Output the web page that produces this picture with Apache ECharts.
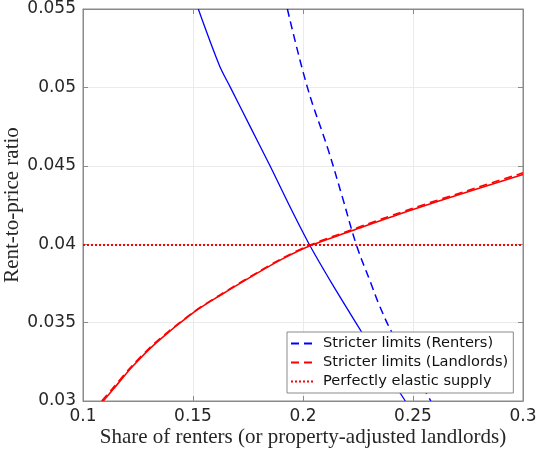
<!DOCTYPE html>
<html><head><meta charset="utf-8">
<script src="https://cdn.jsdelivr.net/npm/echarts@6/dist/echarts.min.js"></script>
<style>html,body{margin:0;padding:0;background:#fff}#c{width:537px;height:449px}</style>
</head><body><div id="c"></div>
<script>
// Data (x = share of renters, y = rent-to-price ratio)
const rentersBaseX = [0.1524, 0.1620, 0.1670, 0.1760, 0.1850, 0.1937, 0.2032, 0.2131, 0.2240, 0.2351, 0.2465];
const rentersBaseY = [0.0550, 0.0514, 0.0500, 0.0475, 0.0450, 0.0425, 0.0399, 0.0375, 0.0350, 0.0325, 0.0300];
const rentersStrictX = [0.1929, 0.2020, 0.2115, 0.2179, 0.2244, 0.2309, 0.2347, 0.2403, 0.2492, 0.2581];
const rentersStrictY = [0.0550, 0.0500, 0.0460, 0.0430, 0.0399, 0.0375, 0.0361, 0.0344, 0.0322, 0.0300];
const landlordsBaseX = [0.1092, 0.1138, 0.1225, 0.1335, 0.1500, 0.1623, 0.1800, 0.1905, 0.2032, 0.2221, 0.2289, 0.2500, 0.2750, 0.3000];
const landlordsBaseY = [0.0300, 0.03076, 0.0322, 0.03374, 0.03562, 0.03673, 0.03822, 0.03905, 0.0399, 0.04085, 0.0412, 0.04222, 0.04335, 0.04445];
const landlordsStrictX = [0.1085, 0.1132, 0.1220, 0.1330, 0.1500, 0.1623, 0.1800, 0.1905, 0.2032, 0.2221, 0.2289, 0.2500, 0.2750, 0.3000];
const landlordsStrictY = [0.0300, 0.03076, 0.0322, 0.03374, 0.03565, 0.03677, 0.03826, 0.03910, 0.03995, 0.04092, 0.04127, 0.04230, 0.04343, 0.04455];
const elasticX = [0.1, 0.3];
const elasticY = [0.03995, 0.03995];
const xTicks = [0.1, 0.15, 0.2, 0.25, 0.3];
const yTicks = [0.03, 0.035, 0.04, 0.045, 0.05, 0.055];
const legendNames = ['Stricter limits (Renters)', 'Stricter limits (Landlords)', 'Perfectly elastic supply'];

const zip = (xs, ys) => xs.map((x, i) => [x, ys[i]]);
const fmt = v => String(+v.toFixed(3));

const chart = echarts.init(document.getElementById('c'));
const tickFont = {fontFamily: 'DejaVu Sans', fontSize: 17, color: '#262626'};
const titleFont = {fontFamily: 'Liberation Serif', fontSize: 21, color: '#262626'};
const axisCol = '#8a8a8a';
const sideAxis = {
  type: 'value', axisLine: {show: true, onZero: false, lineStyle: {color: axisCol}},
  axisTick: {show: true, inside: true, length: 5, lineStyle: {color: axisCol}},
  axisLabel: {show: false}, splitLine: {show: false}
};
chart.setOption({
  animation: false,
  grid: {left: 83, right: 14, top: 9, bottom: 48, containLabel: false, outerBoundsMode: 'none',
         show: true, borderColor: axisCol, borderWidth: 1},
  xAxis: [{
    type: 'value', min: xTicks[0], max: xTicks[xTicks.length-1], interval: 0.05,
    axisLine: {show: true, onZero: false, lineStyle: {color: axisCol}},
    axisTick: {show: true, inside: true, length: 5, lineStyle: {color: axisCol}},
    axisLabel: Object.assign({margin: 7, formatter: fmt}, tickFont),
    splitLine: {show: true, lineStyle: {color: '#ebebeb'}},
    name: 'Share of renters (or property-adjusted landlords)', nameLocation: 'middle', nameGap: 26,
    nameMoveOverlap: false,
    nameTextStyle: titleFont
  }, Object.assign({position: 'top', min: xTicks[0], max: xTicks[xTicks.length-1], interval: 0.05}, sideAxis)],
  yAxis: [{
    type: 'value', min: yTicks[0], max: yTicks[yTicks.length-1], interval: 0.005,
    axisLine: {show: true, onZero: false, lineStyle: {color: axisCol}},
    axisTick: {show: true, inside: true, length: 5, lineStyle: {color: axisCol}},
    axisLabel: Object.assign({margin: 7, formatter: fmt}, tickFont),
    splitLine: {show: true, lineStyle: {color: '#ebebeb'}},
    name: 'Rent-to-price ratio', nameLocation: 'middle', nameGap: 60, nameRotate: 90,
    nameMoveOverlap: false,
    nameTextStyle: titleFont
  }, Object.assign({position: 'right', min: yTicks[0], max: yTicks[yTicks.length-1], interval: 0.005}, sideAxis)],
  legend: {
    data: legendNames, orient: 'vertical', left: 287, top: 332,
    backgroundColor: '#fff', borderColor: '#8a8a8a', borderWidth: 1,
    padding: [4, 5, 4, 3], itemGap: 4, itemWidth: 23, itemHeight: 15,
    itemStyle: {opacity: 0},
    textStyle: {fontFamily: 'DejaVu Sans', fontSize: 14.6, color: '#111', padding: [0, 0, 0, 4], lineHeight: 15}
  },
  series: [
    {name: 'Baseline (Renters)', type: 'line', data: zip(rentersBaseX, rentersBaseY), showSymbol: false, symbol: 'none', smooth: 0.3,
     lineStyle: {color: '#0000ff', width: 1.3}, itemStyle: {color: '#0000ff'}, clip: true},
    {name: legendNames[0], type: 'line', data: zip(rentersStrictX, rentersStrictY), showSymbol: false, symbol: 'none', smooth: 0.4,
     lineStyle: {color: '#0000ff', width: 1.5, type: [8, 5]}, itemStyle: {color: '#0000ff'}, clip: true},
    {name: 'Baseline (Landlords)', type: 'line', data: zip(landlordsBaseX, landlordsBaseY), showSymbol: false, symbol: 'none', smooth: 0.3,
     lineStyle: {color: '#ff0000', width: 1.6}, itemStyle: {color: '#ff0000'}, clip: true},
    {name: legendNames[1], type: 'line', data: zip(landlordsStrictX, landlordsStrictY), showSymbol: false, symbol: 'none', smooth: 0.3,
     lineStyle: {color: '#ff0000', width: 1.6, type: [8, 5]}, itemStyle: {color: '#ff0000'}, clip: true},
    {name: legendNames[2], type: 'line', data: zip(elasticX, elasticY), showSymbol: false, symbol: 'none',
     lineStyle: {color: '#ff0000', width: 2, type: [2, 2]}, itemStyle: {color: '#ff0000'}}
  ]
});
</script></body></html>
